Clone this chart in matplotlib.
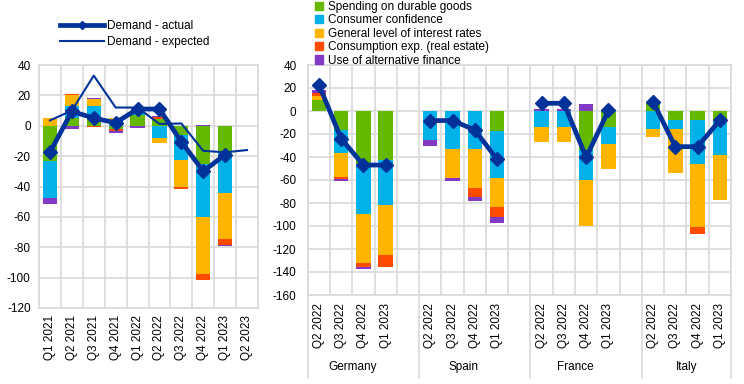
import numpy as np
import matplotlib
matplotlib.use("Agg")
import matplotlib.pyplot as plt
import matplotlib.transforms as mtransforms
from matplotlib.lines import Line2D
from matplotlib.patches import Patch

plt.rcParams['font.family'] = ['Liberation Sans', 'DejaVu Sans']
plt.rcParams['font.size'] = 8.5
plt.rcParams['axes.unicode_minus'] = False

# left panel: euro area, Q1 2021 - Q2 2023
quarters_l = ['Q1 2021', 'Q2 2021', 'Q3 2021', 'Q4 2021', 'Q1 2022',
              'Q2 2022', 'Q3 2022', 'Q4 2022', 'Q1 2023', 'Q2 2023']
durable_l = [-23, 5, 5, -2, 7, 4.5, -5.8, -25.3, -18, 0]
confidence_l = [-24.7, 8, 8, 3.3, 1.6, -7.8, -16.7, -34.5, -26.4, 0]
interest_l = [5, 7, 4.5, 1.6, 0, -3.7, -17.5, -38, -30, 0]
realestate_l = [0, 1, -1, -1.3, 0, 1.3, -1.8, -3.7, -4, 0]
altfin_l = [-4, -2, 0.7, -1.7, -1.2, 0.6, 0, 0.8, -1, 0]
actual_l = [-17.5, 9.5, 5, 2, 11, 11, -10.5, -30, -19, np.nan]
expected_l = [3.5, 10, 33, 12, 12, 1.2, 1.5, -16.5, -17.5, -16]

# right panel: countries, Q2 2022 - Q1 2023
countries = ['Germany', 'Spain', 'France', 'Italy']
quarters_r = ['Q2 2022', 'Q3 2022', 'Q4 2022', 'Q1 2023']
durable_r = {'Germany': [10, -16.5, -46, -42.6], 'Spain': [0, 0, 0, -17],
             'France': [0, 0, -34, -14], 'Italy': [7.2, -7.8, -7.8, -7.8]}
confidence_r = {'Germany': [0, -20.3, -43.6, -39.4], 'Spain': [-25.2, -33.3, -33.3, -41.3],
                'France': [-13.6, -13.6, -26, -14.7], 'Italy': [-15.7, -7.9, -38.6, -30.2]}
interest_r = {'Germany': [3, -20.2, -42.3, -43.2], 'Spain': [0, -25, -33.7, -24.9],
              'France': [-13.1, -13.1, -39.7, -21.7], 'Italy': [-7.3, -38.3, -54.2, -39]}
realestate_r = {'Germany': [3, -2.4, -3.5, -10.2], 'Spain': [0, 0, -8, -8.7],
                'France': [0, 0, 0, 0], 'Italy': [0, 0, -6.4, 0]}
altfin_r = {'Germany': [2, -1.6, -1.6, 0], 'Spain': [-5.2, -2.7, -3, -5.1],
            'France': [1.7, 1.7, 6, 0], 'Italy': [0, 0, 0, 0]}
actual_r = {'Germany': [23, -24, -47, -47], 'Spain': [-8.3, -8.3, -16.5, -42],
            'France': [6.7, 6.7, -40.3, 0.5], 'Italy': [8, -31, -31, -8]}

labels = ['Spending on durable goods', 'Consumer confidence',
          'General level of interest rates', 'Consumption exp. (real estate)',
          'Use of alternative finance']
colors = ['#65B800', '#00B1EA', '#FFB400', '#FF4B00', '#8139C6']
navy = '#003299'
gridc = '#D9D9D9'


def stacked(ax, x, series):
    pos = np.zeros(len(x))
    neg = np.zeros(len(x))
    for vals, c in zip(series, colors):
        v = np.asarray(vals, float)
        ax.bar(x, v, bottom=np.where(v >= 0, pos, neg), width=0.65,
               color=c, zorder=2, linewidth=0)
        pos += np.clip(v, 0, None)
        neg += np.clip(v, None, 0)


def style(ax, n, ylim, step):
    ax.set_xlim(-0.5, n - 0.5)
    ax.set_ylim(*ylim)
    ax.set_yticks(np.arange(ylim[0], ylim[1] + 1, step))
    ax.set_xticks(np.arange(-0.5, n, 1), minor=True)
    ax.grid(which='minor', axis='x', color=gridc, lw=1.2, zorder=0)
    ax.grid(which='major', axis='y', color=gridc, lw=1.2, zorder=0)
    ax.tick_params(which='both', length=0)
    for s in ax.spines.values():
        s.set_color(gridc)
        s.set_linewidth(1.2)


fig = plt.figure(figsize=(7.44, 3.84), dpi=100)

# ---- left panel
axl = fig.add_axes([39 / 744, 76 / 384, 219 / 744, 243 / 384])
xl = np.arange(len(quarters_l))
stacked(axl, xl, [durable_l, confidence_l, interest_l, realestate_l, altfin_l])
axl.plot(xl, expected_l, color=navy, lw=1.5, zorder=3)
axl.plot(xl, actual_l, color=navy, lw=3.4, marker='D', ms=7, zorder=4)
style(axl, len(quarters_l), (-120, 40), 20)
axl.set_xticks(xl)
axl.set_xticklabels(quarters_l, rotation=90)
axl.tick_params(axis='x', pad=5)
axl.tick_params(axis='y', pad=6)

# ---- right panel
axr = fig.add_axes([307.7 / 744, 89 / 384, 423.3 / 744, 230 / 384])
nslots = 5 * len(countries) - 1
ticks, ticklabels = [], []
for i, c in enumerate(countries):
    x = np.arange(4) + 5 * i
    stacked(axr, x, [durable_r[c], confidence_r[c], interest_r[c],
                     realestate_r[c], altfin_r[c]])
    axr.plot(x, actual_r[c], color=navy, lw=3.4, marker='D', ms=7, zorder=4)
    ticks += list(x)
    ticklabels += quarters_r
style(axr, nslots, (-160, 40), 20)
axr.set_xticks(ticks)
axr.set_xticklabels(ticklabels, rotation=90)
axr.tick_params(axis='x', pad=6)
axr.tick_params(axis='y', pad=8)

trans = mtransforms.blended_transform_factory(axr.transData, axr.transAxes)
for i, c in enumerate(countries):
    axr.text(5 * i + 1.5, -0.313, c, transform=trans, ha='center', va='center')
for xs in np.arange(-0.5, nslots + 1, 5).tolist() + [nslots - 0.5]:
    axr.plot([xs, xs], [0, -0.36], transform=trans, color=gridc, lw=1.2,
             clip_on=False)

# ---- legends
hl = [Line2D([], [], color=navy, lw=3.4, marker='D', ms=4),
      Line2D([], [], color=navy, lw=1.5)]
fig.legend(hl, ['Demand - actual', 'Demand - expected'], loc='upper left',
           bbox_to_anchor=(60 / 744, 1 - 20 / 384), frameon=False,
           borderpad=0, borderaxespad=0, handlelength=3.7, handletextpad=0.3,
           labelspacing=0.35, fontsize=8.5)

hr = [Patch(color=c) for c in colors]
fig.legend(hr, labels, loc='upper left', bbox_to_anchor=(315 / 744, 1 - 1 / 384),
           frameon=False, borderpad=0, borderaxespad=0, handlelength=0.7,
           handleheight=0.7, handletextpad=0.4, labelspacing=0.12, fontsize=8.5)

fig.savefig('out.png', dpi=100)
